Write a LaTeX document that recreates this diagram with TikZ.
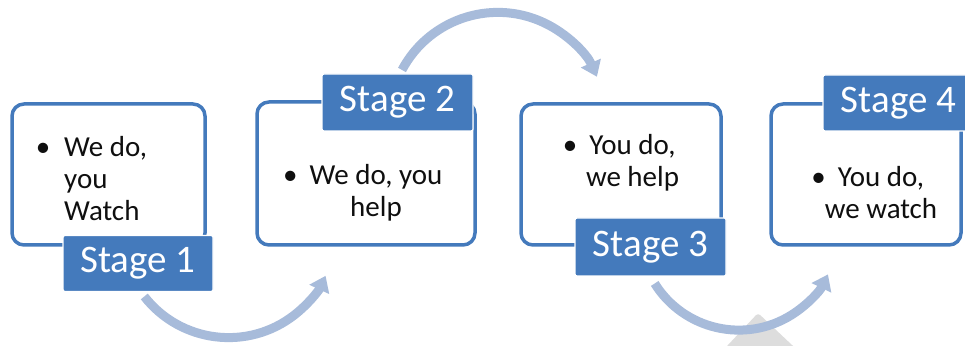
\documentclass[tikz,border=0pt]{standalone}
\usepackage{fontspec}
\setmainfont{Carlito}
\usetikzlibrary{arrows.meta}
\definecolor{boxblue}{RGB}{68,122,188}
\definecolor{arrowblue}{RGB}{167,187,218}
\definecolor{trigray}{RGB}{221,221,221}
\definecolor{bodyink}{RGB}{15,15,15}
\begin{document}
\begin{tikzpicture}[x=1pt,y=1pt,
  stagebox/.style={draw=boxblue, line width=3.5pt, rounded corners=12pt, inner sep=0pt},
  stagelabel/.style={fill=boxblue, draw=white, line width=1.2pt, text=white,
    font=\fontsize{39}{46}\selectfont, minimum width=151pt, minimum height=57pt,
    inner sep=0pt, rounded corners=2pt},
  bodytext/.style={font=\fontsize{29}{31.8}\selectfont, text=bodyink, inner sep=0pt},
  flowarrow/.style={draw=arrowblue, line width=9pt, -{Triangle[length=15pt,width=21pt]}}
]
\useasboundingbox (0,0) rectangle (965,345);
\clip (0,0) rectangle (965,345);
\fill[trigray, rounded corners=3pt] (718.6,-10) -- (758,32) -- (802.6,-10) -- cycle;
% boxes
\node[stagebox, minimum width=193pt, minimum height=141pt] (b1) at (108.5,170.5) {};
\node[stagebox, minimum width=218pt, minimum height=143pt] (b2) at (366,171.5) {};
\node[stagebox, minimum width=200pt, minimum height=141pt] (b3) at (621,170.5) {};
\node[stagebox, minimum width=190pt, minimum height=141pt] (b4) at (866,170.5) {};
% arrows
\draw[flowarrow] ([shift={(218:107)}]228.6,114.4) arc[start angle=218, end angle=335, radius=107];
\draw[flowarrow] ([shift={(152:108.5)}]497.8,224.1) arc[start angle=152, end angle=24, radius=108.5];
\draw[flowarrow] ([shift={(212:99.2)}]738.8,114.1) arc[start angle=212, end angle=334, radius=99.2];
% labels
\node[stagelabel, minimum width=150pt, minimum height=56pt] (l1) at (138,81.5) {Stage 1};
\node[stagelabel] (l2) at (397.5,242.5) {Stage 2};
\node[stagelabel, minimum height=58pt] (l3) at (650.5,98) {Stage 3};
\node[stagelabel, minimum height=56pt] (l4) at (898.5,242) {Stage 4};
% texts
\node[bodytext, anchor=base west] (t1) at (64,188.5)
  {\begin{tabular}[t]{@{}l@{}}\llap{\textbullet\hspace{14pt}}We do,\\you\\Watch\end{tabular}};
\node[bodytext, anchor=base] (t2) at (376,160)
  {\begin{tabular}[t]{@{}c@{}}\llap{\textbullet\hspace{12pt}}We do, you\\help\end{tabular}};
\node[bodytext, anchor=base] (t3) at (632.5,190)
  {\begin{tabular}[t]{@{}c@{}}\llap{\textbullet\hspace{12pt}}You do,\\we help\end{tabular}};
\node[bodytext, anchor=base] (t4) at (881,158)
  {\begin{tabular}[t]{@{}c@{}}\llap{\textbullet\hspace{12pt}}You do,\\we watch\end{tabular}};
\end{tikzpicture}
\end{document}
